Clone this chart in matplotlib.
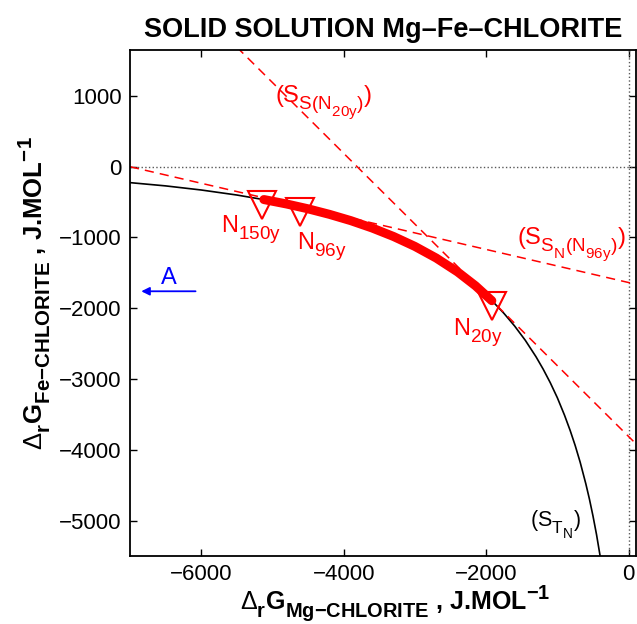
import numpy as np
import matplotlib
matplotlib.use("Agg")
from matplotlib import pyplot as plt
import matplotlib._mathtext as mt

# the original (MATLAB tex) uses bigger, lower subscripts than mathtext
mt.SHRINK_FACTOR = 0.8
mt.FontConstantsBase.sub1 = 0.6

plt.rcParams['font.family'] = ['Liberation Sans', 'DejaVu Sans']
plt.rcParams['mathtext.fontset'] = 'custom'
plt.rcParams['mathtext.rm'] = 'Liberation Sans'
plt.rcParams['mathtext.it'] = 'Liberation Sans'
plt.rcParams['mathtext.bf'] = 'Liberation Sans:bold'

# black solid solution curve (S_TN)
curve_x = [-7000, -6500, -6000, -5500, -5000, -4500, -4000, -3500, -3000, -2800,
           -2500, -2200, -2000, -1906, -1750, -1600, -1450, -1300, -1200, -1100,
           -1000, -900, -820, -750, -680, -600, -550, -500, -450, -400, -350]
curve_y = [-225, -271, -329, -400, -486, -595, -731, -904, -1126, -1233,
           -1418, -1641, -1814, -1906, -2072, -2251, -2453, -2685, -2859, -3051,
           -3265, -3510, -3728, -3939, -4175, -4482, -4696, -4935, -5199, -5499, -5842]

# thick red part (N150y -> N20y)
path_x = [-5120, -4800, -4500, -4200, -3900, -3600, -3300, -3000, -2700, -2400, -2150, -1920]
path_y = [-464, -527, -595, -673, -762, -866, -986, -1126, -1291, -1487, -1682, -1893]

# triangles
samples = ['150y', '96y', '20y']
tri_x = [-5140, -4610, -1915]
tri_y = [-535, -634, -1972]

# dashed tangent lines (end points)
tan96_x = [-7000, 100]
tan96_y = [0, -1660]
tan20_x = [-5500, 100]
tan20_y = [1690, -3912]

fig = plt.figure(figsize=(6.37, 6.24), dpi=100)
ax = fig.add_axes([0.204, 0.109, 0.794, 0.811])

ax.axhline(0, color='0.35', ls=':', lw=1)
ax.axvline(0, color='0.35', ls=':', lw=1)

ax.plot(curve_x, curve_y, color='k', lw=1.2)
ax.plot(tan96_x, tan96_y, color='r', ls='--', lw=1.1, dashes=(6, 4))
ax.plot(tan20_x, tan20_y, color='r', ls='--', lw=1.1, dashes=(6, 4))
ax.plot(path_x, path_y, color='r', lw=6.5, solid_capstyle='round')
ax.plot(tri_x, tri_y, ls='none', marker='v', ms=20, mfc='none', mec='r', mew=1.5)

# labels
fs = 17
ax.text(-5720, -920, r'N$_{\mathregular{150y}}$', color='r', fontsize=fs)
ax.text(-4660, -1160, r'N$_{\mathregular{96y}}$', color='r', fontsize=fs)
ax.text(-2460, -2380, r'N$_{\mathregular{20y}}$', color='r', fontsize=fs)
ax.text(-4970, 910, r'(S$_{\mathregular{S(N_{20y})}}$)', color='r', fontsize=fs)
ax.text(-1560, -1090, r'(S$_{\mathregular{S_N(N_{96y})}}$)', color='r', fontsize=fs)
ax.text(-1380, -5080, r'(S$_{\mathregular{T_N}}$)', color='k', fontsize=15.5)

ax.text(-6570, -1660, 'A', color='b', fontsize=fs)
ax.annotate('', xy=(-6880, -1760), xytext=(-6040, -1760),
            arrowprops=dict(arrowstyle='-|>', color='b', lw=1.3, mutation_scale=12))

ax.set_xlim(-7000, 100)
ax.set_ylim(-5500, 1650)
ax.set_xticks([-6000, -4000, -2000, 0])
ax.set_yticks([-5000, -4000, -3000, -2000, -1000, 0, 1000])
ax.tick_params(direction='in', length=5, width=1, labelsize=16, top=True, right=True, pad=6)
for s in ax.spines.values():
    s.set_linewidth(1.3)

ax.set_xlabel(r'$\Delta_\mathbf{r}\mathbf{G}_\mathbf{Mg{-}CHLORITE}$ , J.MOL$^\mathbf{-1}$',
              fontsize=18, fontweight='bold', labelpad=-1.5)
ax.set_ylabel(r'$\Delta_\mathbf{r}\mathbf{G}_\mathbf{Fe{-}CHLORITE}$ , J.MOL$^\mathbf{-1}$',
              fontsize=18.5, fontweight='bold', labelpad=4)
ax.xaxis.label.set_x(0.525)
ax.yaxis.label.set_y(0.52)
ax.set_title('SOLID SOLUTION Mg\u2013Fe\u2013CHLORITE', fontsize=19.5, fontweight='bold', pad=9)

fig.savefig('out.png', dpi=100)
